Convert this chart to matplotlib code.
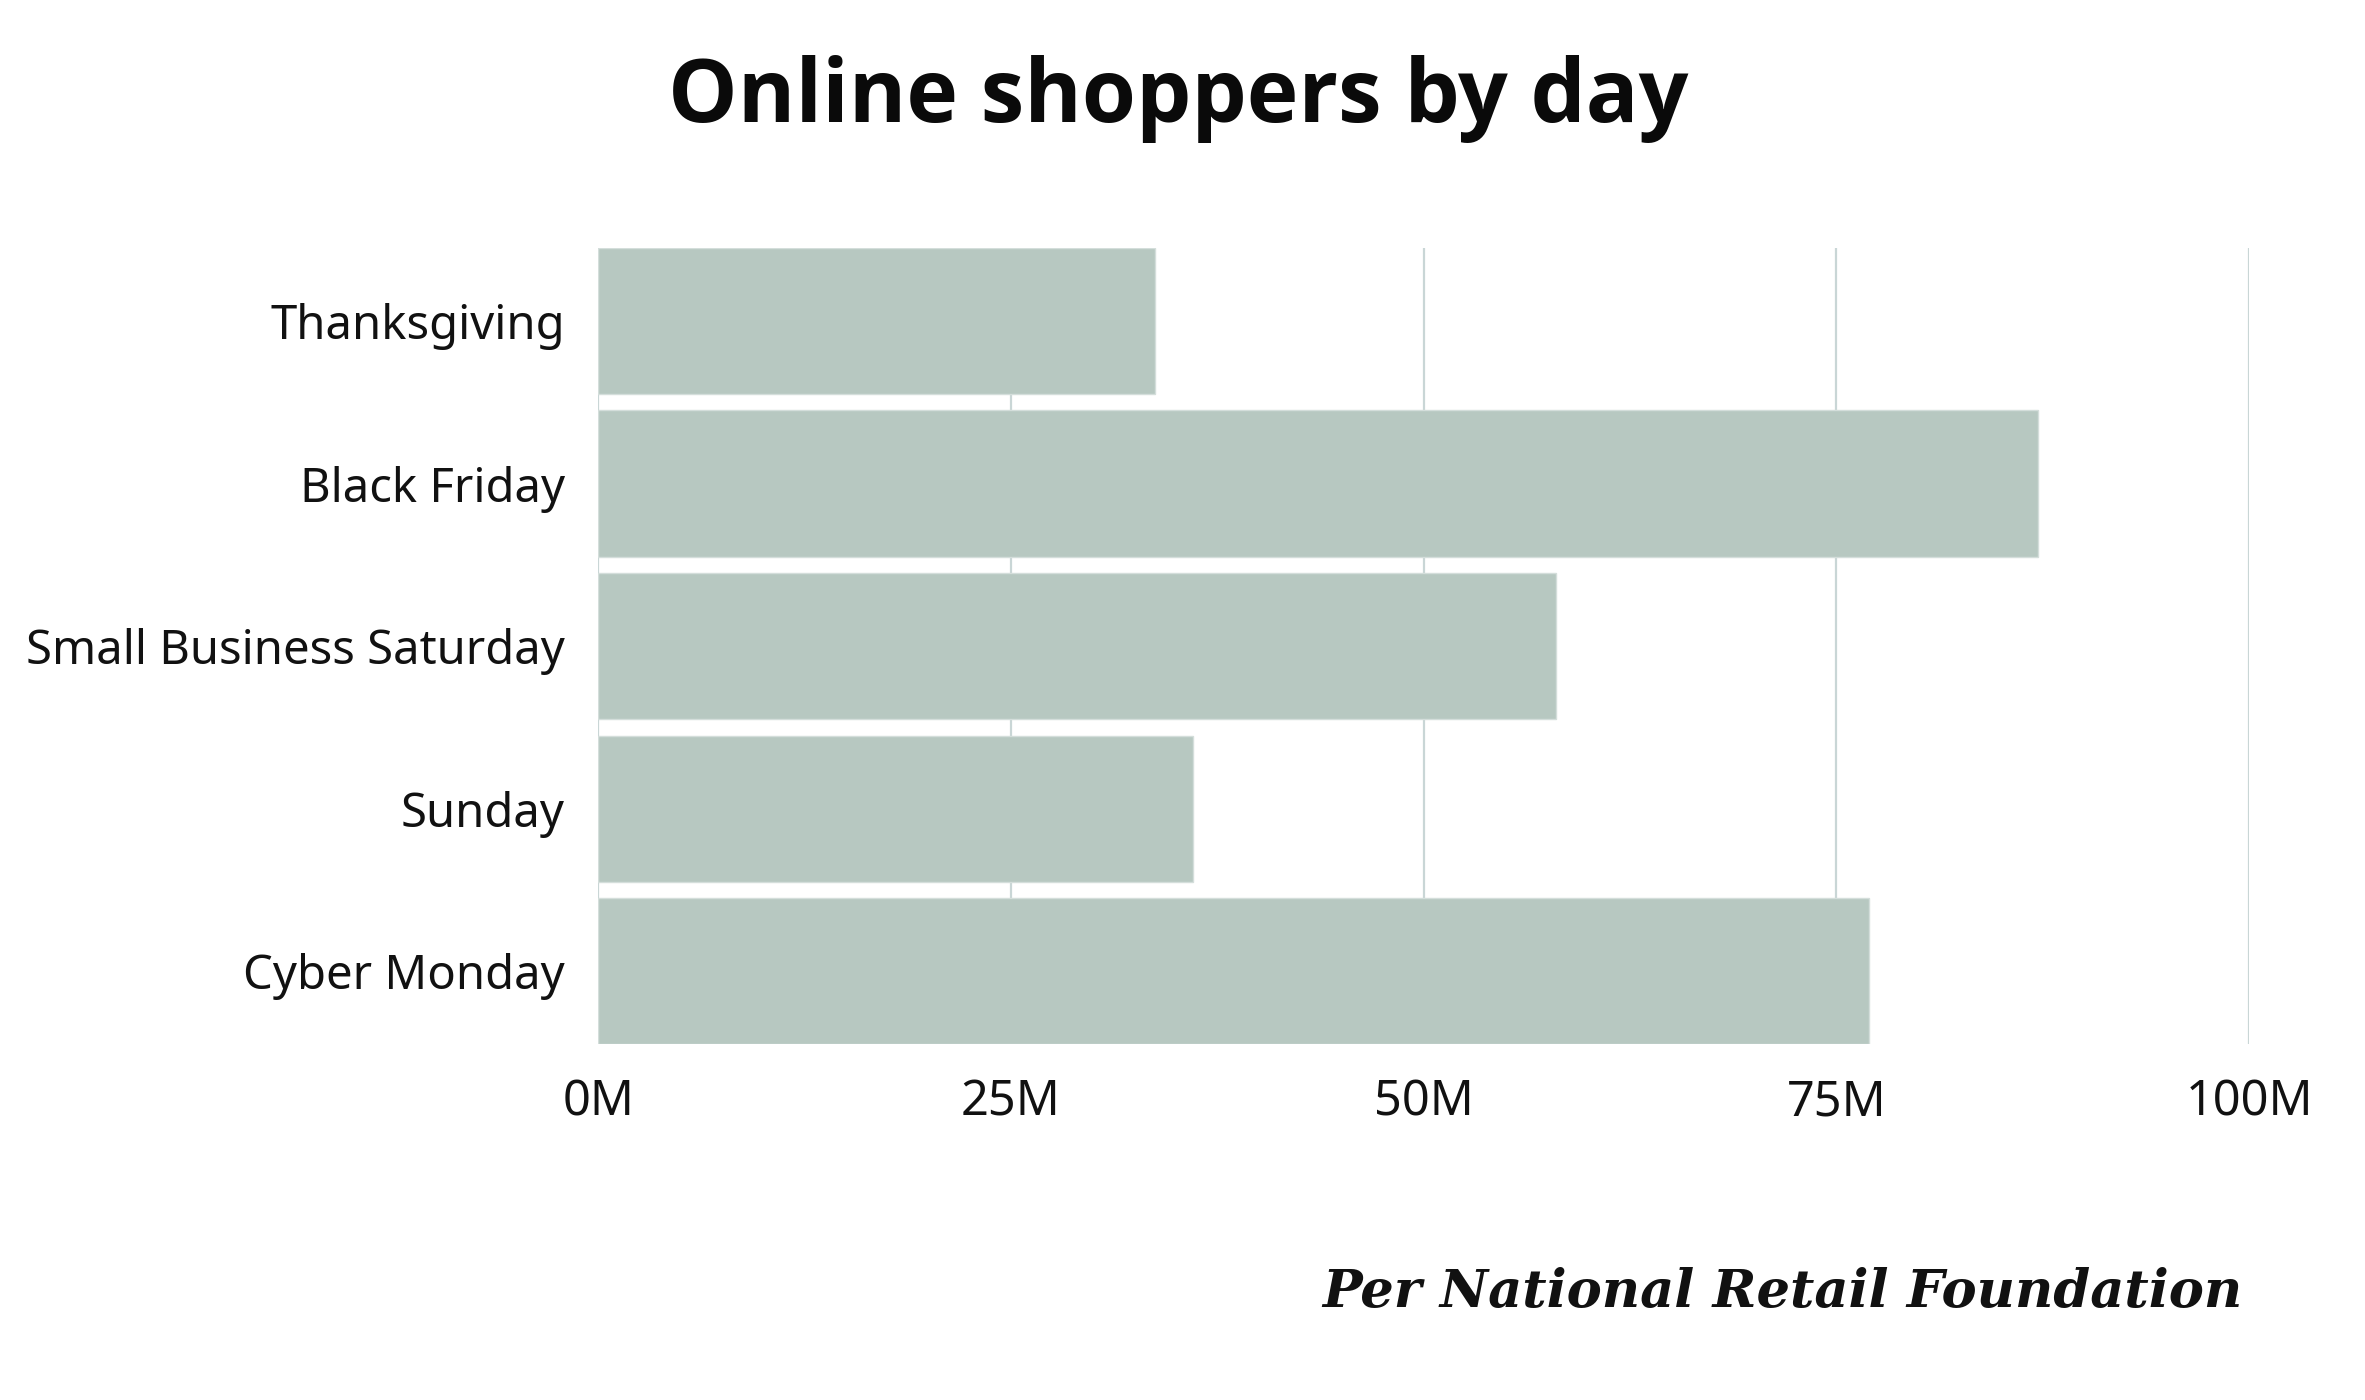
import matplotlib
matplotlib.use("Agg")
import matplotlib.pyplot as plt

days = ["Thanksgiving", "Black Friday", "Small Business Saturday", "Sunday", "Cyber Monday"]
shoppers_m = [33.7, 87.2, 58.0, 36.0, 77.0]
x_ticks = [0, 25, 50, 75, 100]
x_labels = ["0M", "25M", "50M", "75M", "100M"]

bar_color = "#b7c8c1"
grid_color = "#c9d6d6"

fig = plt.figure(figsize=(23.65, 14), dpi=100)
ax = fig.add_axes([0.253, 0.254, 0.698, 0.569])

ax.barh(range(len(days)), shoppers_m, height=0.9, color=bar_color,
        edgecolor="#d4dedb", linewidth=1.0, zorder=2)

ax.set_xlim(0, 100)
ax.set_ylim(len(days) - 0.55, -0.45)
ax.set_xticks(x_ticks)
ax.set_xticklabels(x_labels)
ax.set_yticks(range(len(days)))
ax.set_yticklabels(days)
ax.tick_params(axis="both", length=0, labelsize=34, colors="#111111")
ax.tick_params(axis="x", labelsize=35, pad=24)
ax.tick_params(axis="y", pad=24)
for lbl in ax.get_xticklabels() + ax.get_yticklabels():
    lbl.set_fontfamily("Noto Sans")

ax.grid(axis="x", color=grid_color, linewidth=1.6, zorder=0)
ax.grid(axis="y", visible=False)
for side in ["top", "right", "bottom", "left"]:
    ax.spines[side].set_visible(False)

fig.text(0.498, 0.929, "Online shoppers by day", ha="center", va="center",
         fontsize=63, fontweight="bold", family="Open Sans", color="#0a0a0a")

fig.text(0.948, 0.077, "Per National Retail Foundation", ha="right", va="center",
         fontsize=38, fontweight="bold", fontstyle="italic", family="DejaVu Serif",
         color="#111111")

fig.savefig("out.png", dpi=100, facecolor="white")
